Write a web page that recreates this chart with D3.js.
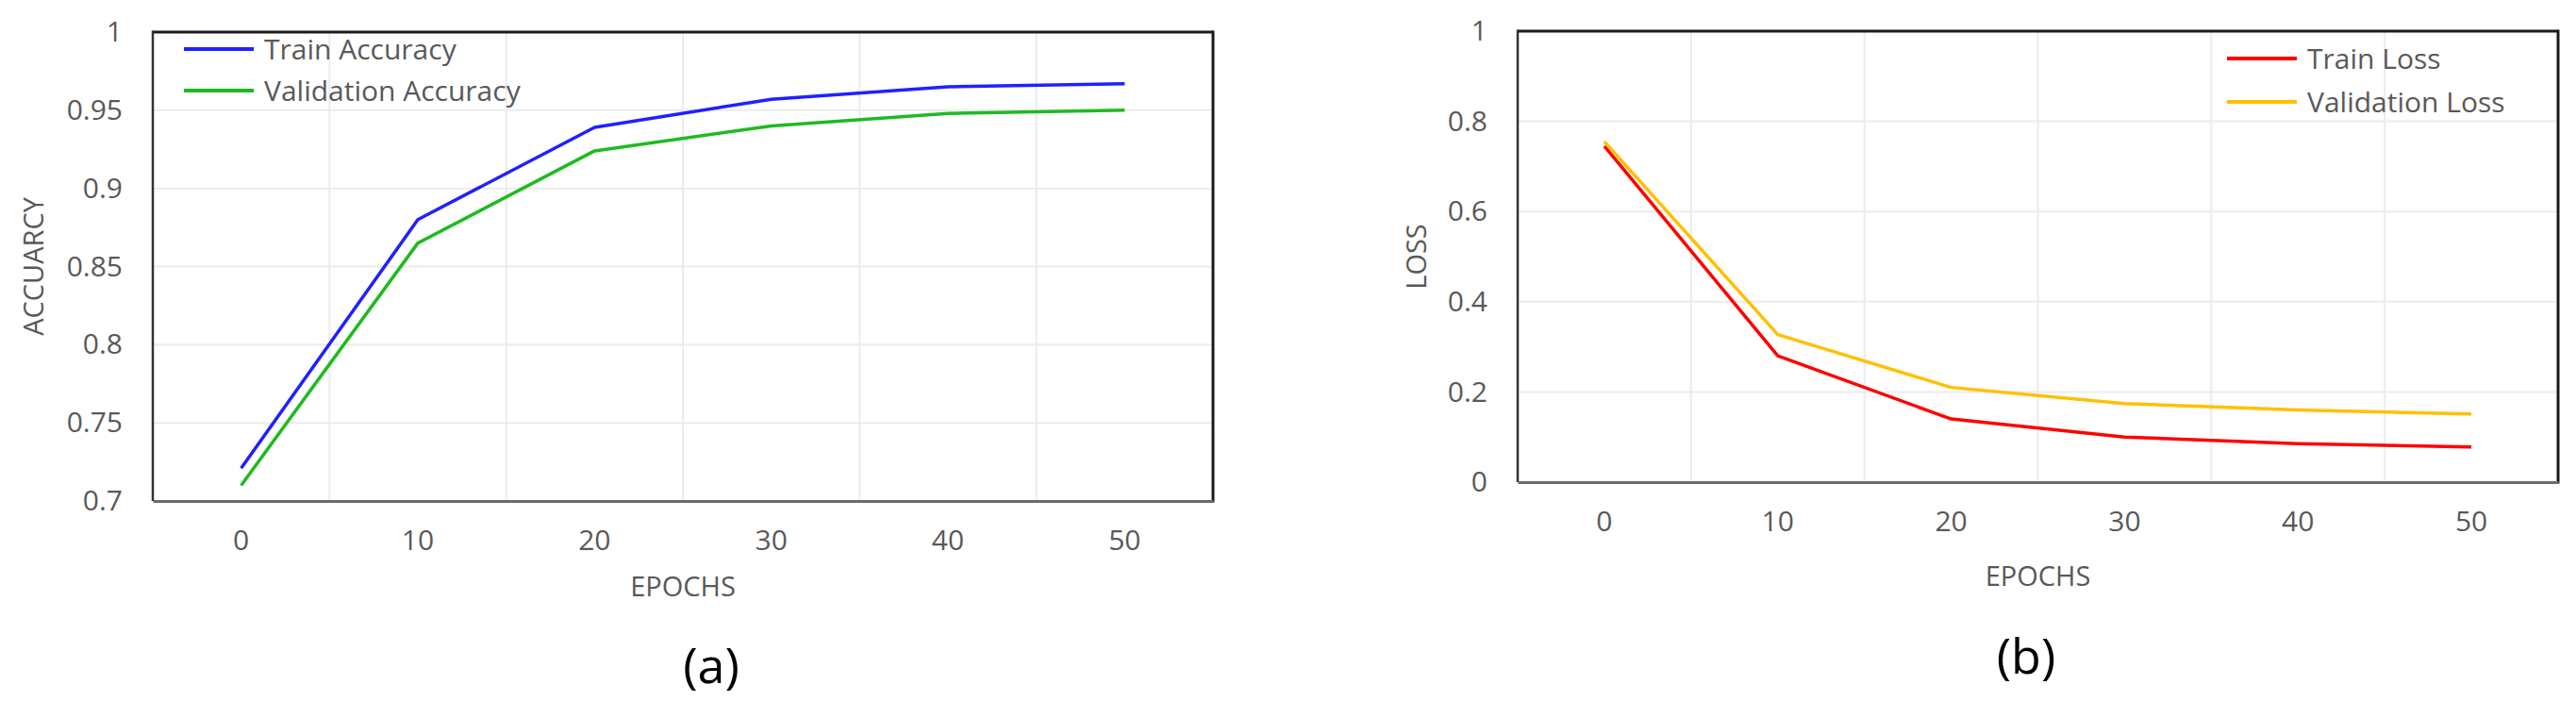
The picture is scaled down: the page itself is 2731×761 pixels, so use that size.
<!DOCTYPE html>
<html>
<head>
<meta charset="utf-8">
<script src="https://cdn.jsdelivr.net/npm/d3@7"></script>
<style>
  body { margin: 0; background: #fff; }
  text { font-family: "Open Sans", "Noto Sans", sans-serif; }
</style>
</head>
<body>
<svg id="chart"></svg>
<script>
// data
let epochs = [0, 10, 20, 30, 40, 50];
let trainAcc = [0.721, 0.880, 0.939, 0.957, 0.965, 0.967];
let valAcc = [0.710, 0.865, 0.924, 0.940, 0.948, 0.950];
let trainLoss = [0.745, 0.280, 0.140, 0.100, 0.085, 0.078];
let valLoss = [0.755, 0.327, 0.210, 0.174, 0.160, 0.151];
let accTicks = [0.7, 0.75, 0.8, 0.85, 0.9, 0.95, 1];
let lossTicks = [0, 0.2, 0.4, 0.6, 0.8, 1];

let width = 2731,
  height = 761;

let svg = d3.select("#chart").attr("width", width).attr("height", height);

let fmt = (d) => String(+d.toFixed(2));

function drawPanel(p) {
  let g = svg.append("g");

  let x = d3.scaleBand().domain(epochs).range([p.left, p.right]);
  let y = d3.scaleLinear().domain(p.domain).range([p.bottom, p.top]);
  let cx = (d) => x(d) + x.bandwidth() / 2;

  // gridlines
  g.append("g")
    .selectAll("line")
    .data(p.ticks)
    .enter()
    .append("line")
    .attr("x1", p.left)
    .attr("x2", p.right)
    .attr("y1", (d) => y(d))
    .attr("y2", (d) => y(d))
    .attr("stroke", "#ececec")
    .attr("stroke-width", 2);
  g.append("g")
    .selectAll("line")
    .data(epochs.slice(1))
    .enter()
    .append("line")
    .attr("x1", (d) => x(d))
    .attr("x2", (d) => x(d))
    .attr("y1", p.top)
    .attr("y2", p.bottom)
    .attr("stroke", "#ececec")
    .attr("stroke-width", 2);

  // frame
  g.append("line")
    .attr("x1", p.left).attr("x2", p.right)
    .attr("y1", p.top).attr("y2", p.top)
    .attr("stroke", "#1a1a1a").attr("stroke-width", 3);
  g.append("line")
    .attr("x1", p.right).attr("x2", p.right)
    .attr("y1", p.top - 1.5).attr("y2", p.bottom + 1.5)
    .attr("stroke", "#1a1a1a").attr("stroke-width", 3);
  g.append("line")
    .attr("x1", p.left).attr("x2", p.left)
    .attr("y1", p.top - 1.5).attr("y2", p.bottom)
    .attr("stroke", "#333").attr("stroke-width", 2.5);

  // y axis labels
  let ya = g.append("g")
    .attr("transform", `translate(${p.left - 32},0)`)
    .call(d3.axisLeft(y).tickValues(p.ticks).tickFormat(fmt).tickSize(0).tickPadding(0));
  ya.select(".domain").remove();
  ya.selectAll("text")
    .attr("fill", "#595959")
    .style("font-size", "30px")
    .style("font-family", '"Open Sans", sans-serif');

  // x axis
  let xa = g.append("g")
    .attr("transform", `translate(0,${p.bottom})`)
    .call(d3.axisBottom(x).tickSize(0).tickPadding(31));
  xa.select(".domain")
    .attr("stroke", "#6b6b6b")
    .attr("stroke-width", 3);
  xa.selectAll("text")
    .attr("fill", "#595959")
    .style("font-size", "30px")
    .style("font-family", '"Open Sans", sans-serif');

  // series
  let line = d3.line()
    .x((d, i) => cx(epochs[i]))
    .y((d) => y(d));
  p.series.forEach((s) => {
    g.append("path")
      .attr("d", line(s.values))
      .attr("fill", "none")
      .attr("stroke", s.color)
      .attr("stroke-width", 3.5)
      .attr("stroke-linejoin", "round");
  });

  // legend
  p.series.forEach((s, i) => {
    let ly = p.legend.y + i * p.legend.gap;
    g.append("line")
      .attr("x1", p.legend.x)
      .attr("x2", p.legend.x + 74)
      .attr("y1", ly)
      .attr("y2", ly)
      .attr("stroke", s.color)
      .attr("stroke-width", 4);
    g.append("text")
      .attr("x", p.legend.x + 85)
      .attr("y", ly)
      .attr("dy", "0.35em")
      .attr("fill", "#595959")
      .style("font-size", p.legend.size + "px")
      .text(s.name);
  });

  // axis titles
  g.append("text")
    .attr("x", (p.left + p.right) / 2)
    .attr("y", p.xTitleY)
    .attr("dy", "0.35em")
    .attr("text-anchor", "middle")
    .attr("fill", "#595959")
    .style("font-size", "29px")
    .text("EPOCHS");
  g.append("text")
    .attr("transform", `translate(${p.yTitleX},${(p.top + p.bottom) / 2}) rotate(-90)`)
    .attr("dy", "0.35em")
    .attr("text-anchor", "middle")
    .attr("fill", "#595959")
    .style("font-size", "29px")
    .text(p.yTitle);

  // panel tag
  g.append("text")
    .attr("x", p.tagX)
    .attr("y", p.tagY)
    .attr("dy", "0.35em")
    .attr("text-anchor", "middle")
    .attr("fill", "#000")
    .style("font-size", "52px")
    .text(p.tag);
}

drawPanel({
  left: 162, right: 1286, top: 34, bottom: 531,
  domain: [0.7, 1], ticks: accTicks,
  yTitle: "ACCUARCY", yTitleX: 36, xTitleY: 622,
  tag: "(a)", tagX: 754, tagY: 706,
  legend: { x: 195, y: 52, gap: 44, size: 30 },
  series: [
    { name: "Train Accuracy", values: trainAcc, color: "#2020ff" },
    { name: "Validation Accuracy", values: valAcc, color: "#1fba1f" },
  ],
});

drawPanel({
  left: 1609, right: 2712, top: 33, bottom: 511,
  domain: [0, 1], ticks: lossTicks,
  yTitle: "LOSS", yTitleX: 1502, xTitleY: 611,
  tag: "(b)", tagX: 2148, tagY: 696,
  legend: { x: 2361, y: 62, gap: 46, size: 30 },
  series: [
    { name: "Train Loss", values: trainLoss, color: "#ff0000" },
    { name: "Validation Loss", values: valLoss, color: "#ffc000" },
  ],
});
</script>
</body>
</html>
